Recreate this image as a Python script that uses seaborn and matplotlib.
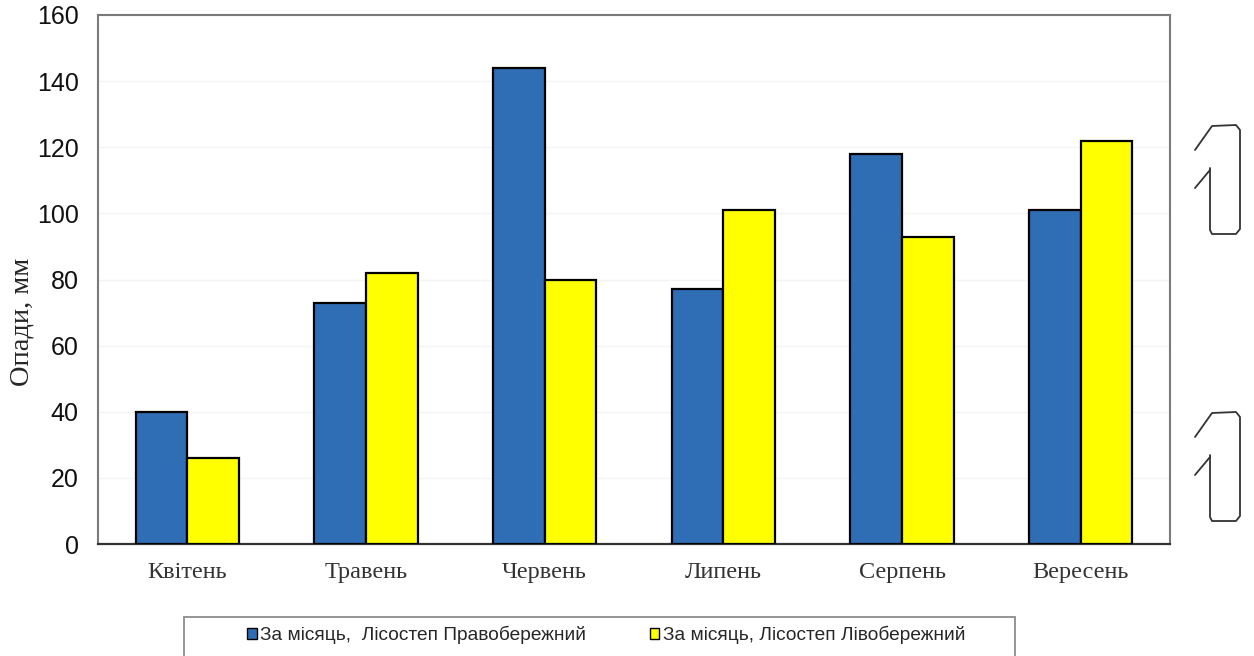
import matplotlib
matplotlib.use("Agg")
import matplotlib.pyplot as plt
from matplotlib.lines import Line2D
from matplotlib.patches import Patch, Rectangle
import seaborn as sns
import pandas as pd

months = ["Квітень", "Травень", "Червень", "Липень", "Серпень", "Вересень"]
right_bank = [40, 73, 144, 77, 118, 101]
left_bank = [26, 82, 80, 101, 93, 122]
series_names = ["За місяць,  Лісостеп Правобережний", "За місяць, Лісостеп Лівобережний"]
y_ticks = [0, 20, 40, 60, 80, 100, 120, 140, 160]

colors = ["#2F6DB5", "#FFFF00"]

df = pd.DataFrame({
    "month": months * 2,
    "value": right_bank + left_bank,
    "series": [series_names[0]] * len(months) + [series_names[1]] * len(months),
})

sns.set_style("white")
W, H = 1254, 656
fig = plt.figure(figsize=(W / 100, H / 100), dpi=100)
ax = fig.add_axes([98 / W, 1 - 544 / H, (1170 - 98) / W, (544 - 15) / H])

sns.barplot(data=df, x="month", y="value", hue="series", order=months,
            hue_order=series_names, palette=colors, width=0.58, gap=0,
            edgecolor="black", linewidth=1.6, saturation=1, ax=ax, legend=False,
            zorder=3)

ax.set_ylim(0, 160)
ax.set_xlim(-0.5, len(months) - 0.5)
ax.set_yticks(y_ticks)
ax.set_yticklabels([str(t) for t in y_ticks], fontsize=18, family="Liberation Sans",
                   color="#111111")
ax.yaxis.grid(True, color="#f4f4f4", linewidth=1, zorder=0)
ax.set_xticks(range(len(months)))
ax.set_xticklabels(months, fontsize=17.5, family="Liberation Serif", color="#333333")
ax.tick_params(axis="x", length=0, pad=13)
ax.tick_params(axis="y", length=8, width=1, color="#c8c8c8", direction="out", pad=6)
# category separators on the x axis
ax.set_xticks([i + 0.5 for i in range(-1, len(months))], minor=True)
ax.tick_params(axis="x", which="minor", length=5, color="#cccccc", direction="out")
ax.set_xlabel("")
ax.set_ylabel("Опади, мм", fontsize=20.5, family="Liberation Serif")
ax.yaxis.set_label_coords(-64 / (1170 - 98), (544 - 322) / (544 - 15))

for side in ["top", "right", "left"]:
    ax.spines[side].set_color("#7a7a7a")
    ax.spines[side].set_linewidth(1.5)
ax.spines["bottom"].set_color("#333333")
ax.spines["bottom"].set_linewidth(1.6)

# legend box with its own frame
fig.add_artist(Rectangle((184 / W, -0.01), (1015 - 184) / W, (1 - 617 / H) + 0.01,
                         transform=fig.transFigure, facecolor="white",
                         edgecolor="#8c8c8c", linewidth=1.3))
handles = [Patch(facecolor=c, edgecolor="black", linewidth=1) for c in colors]
leg = fig.legend(handles, series_names, loc="center left", ncol=2,
                 bbox_to_anchor=(247 / W, 1 - 635 / H), frameon=False,
                 prop={"family": "Liberation Sans", "size": 13.8},
                 handlelength=0.5, handleheight=0.5, handletextpad=0.2,
                 columnspacing=3.3, borderpad=0.0, borderaxespad=0.0)

# bracket-like marks on the right margin
def px(points):
    return [p[0] / W for p in points], [1 - p[1] / H for p in points]

for dy in (0, 287):
    outline = [(1195, 150 + dy), (1212, 126 + dy), (1236, 125 + dy), (1240, 130 + dy),
               (1240, 229 + dy), (1236, 234 + dy), (1212, 234 + dy), (1210, 230 + dy),
               (1210, 168 + dy)]
    xs, ys = px(outline)
    fig.add_artist(Line2D(xs, ys, transform=fig.transFigure, color="#333333",
                          linewidth=1.3, solid_joinstyle="round"))
    xs, ys = px([(1195, 188 + dy), (1210, 170 + dy)])
    fig.add_artist(Line2D(xs, ys, transform=fig.transFigure, color="#333333", linewidth=1.3))

fig.savefig("out.png", dpi=100)
